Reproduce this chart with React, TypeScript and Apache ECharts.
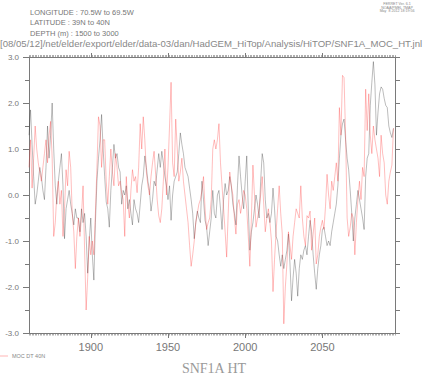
import React, { useEffect, useRef } from "react";
import * as echarts from "echarts";

const startYear = 1860;
const xMin = 1860;
const xMax = 2097;
const majorYears = [1900, 1950, 2000, 2050];

// Gray series (unlabelled), one value per year from 1860
const grayValues = [
  1.3, 1.85, 1.1, 0.4, -0.2, 0.0, 0.3, 0.6, 0.4, 0.1,
  -0.1, 0.6, 1.5, 0.8, 1.3, 2.0, 1.0, 0.2, -0.2, 0.3,
  0.6, 0.9, 0.2, -0.95, -0.3, -0.1, 0.1, -0.2, -0.4, -0.65,
  -0.3, -0.5, -0.5, -0.8, -0.3, -0.6, -0.4, -0.9, -1.7, -1.0,
  -0.5, -1.3, -1.85, -0.6, 0.3, 0.8, 1.2, 1.75, 1.0, 0.4,
  -0.15, -0.3, -0.7, 0.1, 0.6, 1.1, 0.8, 0.9, 0.6, 0.5,
  -0.2, 0.1, 0.0, 0.2, -0.3, -0.1, -0.4, -0.65, -0.1, -0.3,
  -0.4, -0.6, -0.2, 0.2, 0.4, 0.85, 0.6, 0.3, 0.1, -0.35,
  -0.1, 0.3, 0.2, 0.55, 0.9, 0.6, 0.95, 0.7, 0.4, 0.2,
  -0.1, 0.2, -0.55, 0.0, 0.3, 0.4, 0.5, 0.9, 1.35, 1.1,
  0.9, 0.6, 0.5, 0.4, 0.15, -0.1, -0.4, -0.95, -0.6, -0.35,
  -0.5, -0.6, 0.3, -0.1, -0.55, -0.7, -1.1, -0.8, -0.5, 0.1,
  -0.4, -0.5, 0.0, 0.1, -0.3, -0.75, -0.1, 0.25, 0.0, 0.1,
  0.4, 0.2, -0.2, -0.4, -0.65, 0.2, 0.85, 0.4, 0.0, -0.3,
  0.3, 0.85, -0.3, -1.2, -0.8, -0.6, -0.3, 0.0, -0.2, -0.5,
  0.3, 0.9, 0.7, -0.1, -0.5, -0.4, -0.6, -0.4, 0.15, -0.3,
  -0.9, -1.0, -1.3, -1.55, -1.3, -1.6, -1.4, -1.2, -0.85, -1.5,
  -2.3, -1.8, -1.4, -1.7, -2.2, -1.6, -1.3, -1.4, -1.2, -1.1,
  -1.3, -0.9, -0.55, -0.8, -1.3, -1.7, -2.05, -1.6, -1.3, -1.1,
  -0.75, -0.7, -0.9, -1.1, -1.0, -1.1, -0.8, -0.6, -0.4, -0.2,
  0.2, 0.8, 1.3, 1.55, 1.65, 1.2, 0.8, 0.55, 0.1, -0.4,
  -1.0, -0.5, -0.2, 0.1, -0.1, -0.3, -0.5, -0.75, 0.4, 0.8,
  0.9, 1.95, 2.45, 2.9, 2.4, 1.3, 1.8, 2.2, 2.35, 2.3,
  2.1, 1.95, 1.9, 1.5, 1.35, 1.25, 1.45,
];

// "MOC DT 40N" series (pink), one value per year from 1860
const mocValues = [
  0.6, 1.2, 0.15, 0.8, 1.5, 1.0, 0.7, 0.5, 0.3, 0.6,
  0.9, 1.2, 0.7, 1.3, 1.6, 0.8, -0.9, -0.6, 0.0, 0.3,
  -0.2, 0.1, -0.9, -0.3, 0.55, 0.2, 0.95, 0.6, -0.4, -0.8,
  -1.6, -0.9, -0.5, -0.9, -0.45, 0.2, -1.2, -2.5, -1.8, -0.9,
  -1.3, -1.0, -1.3, -0.4, 0.6, 1.7, 1.5, 0.6, 1.2, 1.2,
  0.3, -0.2, 0.4, 1.0, 0.5, 0.2, 0.9, 0.6, 0.2, 0.3,
  0.05, -0.1, -0.9, 0.4, -0.2, -0.5, 0.1, 0.55, 0.3, 0.4,
  0.05, 0.6, 1.55, 1.0, 1.7, 1.2, 0.5, 0.2, 0.0, 0.4,
  0.7, 0.95, 0.45, -0.1, -0.45, -0.6, -0.3, 0.3, 1.0, 0.0,
  0.6, 1.5, 2.45, 0.7, 0.4, 1.65, 1.0, 0.3, 0.5, 0.8,
  0.3, 0.0, -0.3, -0.6, -1.1, -1.55, -1.3, -1.0, -0.6, -0.4,
  -0.2, -0.1, 0.1, 0.4, -0.3, -0.75, -0.6, -0.5, -0.1, 1.0,
  1.2, 1.0, 1.2, 1.55, 0.7, 0.2, -0.3, -0.8, -1.35, -0.4,
  0.5, 0.2, 0.0, -0.5, -0.85, -0.2, -0.1, -0.4, -0.2, 0.1,
  0.0, -0.3, -0.9, -1.55, -0.5, 0.65, 0.0, -0.7, -0.5, -0.3,
  0.0, 0.4, -0.2, -0.8, -0.5, -0.3, -0.6, -1.0, -2.1, -1.4,
  -0.8, -0.3, 0.2, -0.4, -0.85, -2.8, -2.0, -1.5, -0.8, -1.1,
  -1.4, -0.9, -0.6, -0.3, -0.4, -0.5, 0.2, -0.5, -0.9, -1.1,
  -0.45, -0.5, -0.35, -1.2, -0.85, -0.5, -1.5, -1.3, -0.9, -0.7,
  -0.55, -0.75, -0.25, 0.45, 0.0, -0.3, 0.3, 0.1, 0.4, 0.7,
  0.3, 1.9, 1.3, 2.6, 2.55, 1.3, -0.5, -0.9, -0.7, -0.4,
  -0.5, -1.3, -0.6, -0.1, 0.3, -0.1, 0.6, 0.4, 2.3, 1.4,
  2.2, 1.3, 0.9, 1.5, 1.2, 1.0, 0.8, 0.4, 1.3, 0.9,
  0.7, 0.0, -0.2, 0.3, 0.5, 0.65, 1.45,
];

const headerLines = [
  "LONGITUDE : 70.5W to 69.5W",
  "LATITUDE : 39N to 40N",
  "DEPTH (m) : 1500 to 3000",
];
const stampLines = ["FERRET Ver. 6.1", "NOAA/PMEL TMAP", "May  8 2012 18:19:56"];
const pathText =
  "[08/05/12]/net/elder/export/elder/data-03/dan/HadGEM_HiTop/Analysis/HiTOP/SNF1A_MOC_HT.jnl";
const titleText = "SNF1A HT";
const legendText = "MOC DT 40N";

const AXIS = "#7a7a7a";
const TXT = "#777";
const FONT = "'Liberation Sans', Arial, sans-serif";

export default function App() {
  const ref = useRef<HTMLDivElement>(null);
  useEffect(() => {
    document.body.style.margin = "0";
    if (!ref.current) return;
    const chart = echarts.init(ref.current, undefined, { renderer: "svg" });
    const grayData = grayValues.map((v, i) => [startYear + i, v]);
    const mocData = mocValues.map((v, i) => [startYear + i, v]);
    const baseX = {
      type: "value" as const,
      min: xMin,
      max: xMax,
      splitLine: { show: false },
      axisLabel: { show: false },
      axisLine: { show: false, onZero: false },
    };
    chart.setOption({
      animation: false,
      grid: { left: 29, right: 32, top: 57, bottom: 41 },
      xAxis: [
        {
          ...baseX,
          position: "bottom",
          axisLine: { show: true, onZero: false, lineStyle: { color: AXIS, width: 1 } },
          axisTick: { show: true, customValues: majorYears, length: 5, lineStyle: { color: AXIS } },
          axisLabel: {
            show: true,
            customValues: majorYears,
            formatter: (v: number) => String(v),
            fontSize: 11,
            color: TXT,
            fontFamily: FONT,
            margin: 8,
          },
        },
        {
          ...baseX,
          position: "bottom",
          interval: 1,
          axisTick: { show: true, length: 2.5, lineStyle: { color: AXIS, width: 0.6 } },
        },
        {
          ...baseX,
          position: "top",
          interval: 1,
          axisLine: { show: true, onZero: false, lineStyle: { color: AXIS, width: 1 } },
          axisTick: { show: true, length: 2, lineStyle: { color: AXIS, width: 0.6 } },
        },
        {
          ...baseX,
          position: "top",
          axisTick: { show: true, customValues: majorYears, length: 4, lineStyle: { color: AXIS } },
        },
      ],
      yAxis: [
        {
          type: "value",
          position: "left",
          min: -3,
          max: 3,
          interval: 1,
          splitLine: { show: false },
          axisLine: { show: true, onZero: false, lineStyle: { color: AXIS, width: 1 } },
          axisTick: { show: true, length: 6, lineStyle: { color: AXIS } },
          minorTick: { show: true, splitNumber: 2, length: 4, lineStyle: { color: AXIS } },
          axisLabel: {
            formatter: (v: number) => v.toFixed(1),
            fontSize: 8,
            color: TXT,
            fontFamily: FONT,
            margin: 10,
          },
        },
        {
          type: "value",
          position: "right",
          min: -3,
          max: 3,
          interval: 0.5,
          splitLine: { show: false },
          axisLine: { show: true, onZero: false, lineStyle: { color: AXIS, width: 1 } },
          axisTick: { show: true, length: 5, lineStyle: { color: AXIS } },
          axisLabel: { show: false },
        },
      ],
      series: [
        {
          type: "line",
          name: "gray",
          data: grayData,
          showSymbol: false,
          symbol: "none",
          lineStyle: { color: "#000", opacity: 0.38, width: 0.7 },
          z: 2,
        },
        {
          type: "line",
          name: legendText,
          data: mocData,
          showSymbol: false,
          symbol: "none",
          lineStyle: { color: "#ff2020", opacity: 0.42, width: 0.7 },
          z: 3,
        },
      ],
      graphic: [
        ...headerLines.map((t, i) => ({
          type: "text",
          left: 30,
          top: 8 + i * 10.5,
          style: { text: t, fill: TXT, font: `7.5px ${FONT}` },
        })),
        ...stampLines.map((t, i) => ({
          type: "text",
          x: 397,
          y: 2 + i * 3.6,
          style: { text: t, fill: "#888", font: `3.6px ${FONT}`, textAlign: "center" },
        })),
        {
          type: "text",
          x: 0,
          y: 38,
          style: { text: pathText, fill: "#888", font: `9.6px ${FONT}` },
        },
        {
          type: "text",
          x: 214,
          y: 368,
          style: {
            text: titleText,
            fill: "#999",
            font: `14px 'Liberation Serif', 'DejaVu Serif', serif`,
            textAlign: "center",
            textVerticalAlign: "middle",
          },
        },
        {
          type: "line",
          shape: { x1: 0, y1: 356, x2: 8, y2: 356 },
          style: { stroke: "#ff2020", opacity: 0.42, lineWidth: 0.8 },
        },
        {
          type: "text",
          x: 12,
          y: 356,
          style: {
            text: legendText,
            fill: "#888",
            font: `5.5px ${FONT}`,
            textVerticalAlign: "middle",
          },
        },
      ],
    });
    return () => chart.dispose();
  }, []);
  return <div ref={ref} style={{ width: 427, height: 374 }} />;
}
